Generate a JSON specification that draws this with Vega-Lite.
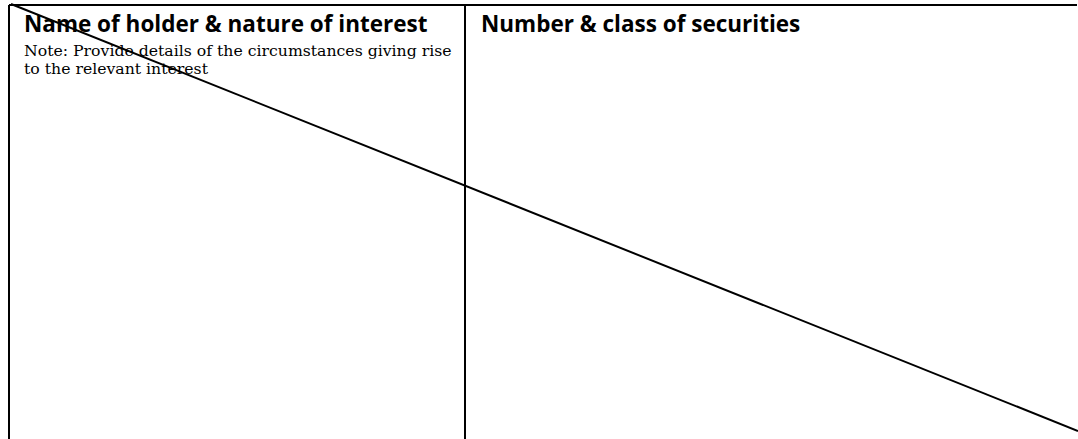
{
  "$schema": "https://vega.github.io/schema/vega-lite/v6.json",
  "width": 1078,
  "height": 439,
  "padding": 0,
  "autosize": {"type": "none"},
  "background": "white",
  "config": {"view": {"stroke": null}},
  "datasets": {
    "lines": [
      {"x": 9, "y": 5, "x2": 1077, "y2": 5},
      {"x": 9, "y": 5, "x2": 9, "y2": 439},
      {"x": 465, "y": 5, "x2": 465, "y2": 439},
      {"x": 11, "y": 4, "x2": 1078, "y2": 431}
    ],
    "headers": [
      {"x": 24, "y": 32, "label": "Name of holder & nature of interest"},
      {"x": 481, "y": 32, "label": "Number & class of securities"}
    ],
    "notes": [
      {"x": 24, "y": 56, "label": "Note: Provide details of the circumstances giving rise"},
      {"x": 24, "y": 74, "label": "to the relevant interest"}
    ]
  },
  "encoding": {
    "x": {"field": "x", "type": "quantitative", "scale": {"domain": [0, 1078], "nice": false, "zero": false}, "axis": null},
    "y": {"field": "y", "type": "quantitative", "scale": {"domain": [0, 439], "nice": false, "zero": false, "reverse": true}, "axis": null}
  },
  "layer": [
    {
      "data": {"name": "lines"},
      "mark": {"type": "rule", "color": "black", "strokeWidth": 2},
      "encoding": {
        "x2": {"field": "x2"},
        "y2": {"field": "y2"}
      }
    },
    {
      "data": {"name": "headers"},
      "mark": {"type": "text", "align": "left", "baseline": "alphabetic", "font": "Open Sans", "fontWeight": "bold", "fontSize": 22.5, "color": "black"},
      "encoding": {"text": {"field": "label"}}
    },
    {
      "data": {"name": "notes"},
      "mark": {"type": "text", "align": "left", "baseline": "alphabetic", "font": "DejaVu Serif", "fontSize": 15.7, "color": "black"},
      "encoding": {"text": {"field": "label"}}
    }
  ]
}
